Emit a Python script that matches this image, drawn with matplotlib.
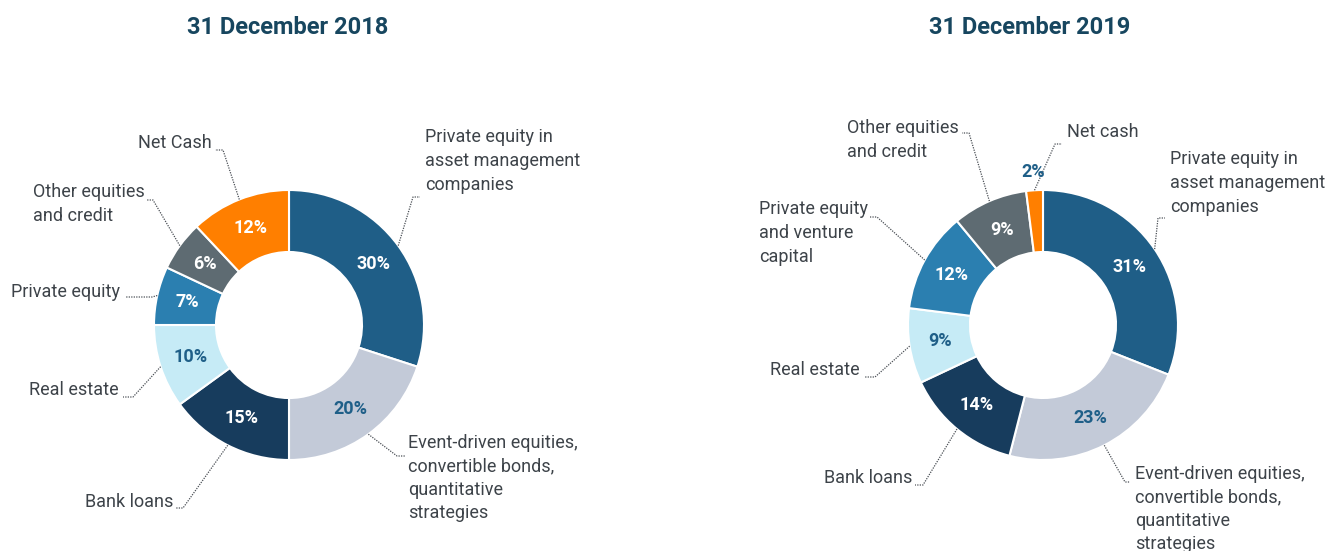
import numpy
import matplotlib
matplotlib.use("Agg")
import matplotlib.pyplot as plt

plt.rcParams['font.family'] = ['Roboto', 'DejaVu Sans']

# data for both dates, clockwise from 12 o'clock
labels_2018 = ["Private equity in\nasset management\ncompanies",
               "Event-driven equities,\nconvertible bonds,\nquantitative\nstrategies",
               "Bank loans", "Real estate", "Private equity",
               "Other equities\nand credit", "Net Cash"]
values_2018 = [30, 20, 15, 10, 7, 6, 12]

labels_2019 = ["Private equity in\nasset management\ncompanies",
               "Event-driven equities,\nconvertible bonds,\nquantitative\nstrategies",
               "Bank loans", "Real estate", "Private equity\nand venture\ncapital",
               "Other equities\nand credit", "Net cash"]
values_2019 = [31, 23, 14, 9, 12, 9, 2]

titles = ["31 December 2018", "31 December 2019"]

colors = ["#1f5e87", "#c3cad8", "#173c5d", "#c6ebf6", "#2b7fb0", "#5e6b72", "#ff7f00"]
pct_colors = ["white", "#1f5f88", "white", "#1f5f88", "white", "white", "white"]

W, H = 1329, 551
fig = plt.figure(figsize=(W / 100, H / 100), dpi=100)
ax = fig.add_axes([0, 0, 1, 1])

R_OUT = 135
R_IN = 73
R_MID = (R_OUT + R_IN) / 2

text_color = "#3d4349"
line_color = "#4a4f55"


def Y(py):
    # pixel row (from top) -> data y
    return H - py


# label layout: (x, y, ha, elbow, end of horizontal tick) in pixels
layout_2018 = [
    (425, 161, 'left', (413, 197), (420, 197)),
    (408, 478, 'left', (397, 456), (405, 456)),
    (173, 502, 'right', (183, 508), (176, 508)),
    (119, 390, 'right', (133, 397), (123, 397)),
    (120, 292, 'right', (152, 297), (125, 297)),
    (33, 204, 'left', (153, 200), (147, 200)),
    (212, 143, 'right', (223, 150), (215, 150)),
]
layout_2019 = [
    (1170, 183, 'left', (1158, 218), (1165, 218)),
    (1135, 509, 'left', (1125, 482), (1130, 482)),
    (912, 478, 'right', (923, 485), (915, 485)),
    (860, 370, 'right', (875, 377), (865, 377)),
    (759, 233, 'left', (877, 217), (870, 217)),
    (847, 140, 'left', (969, 133), (962, 133)),
    (1067, 132, 'left', (1055, 144), (1062, 144)),
]

charts = [
    (values_2018, labels_2018, layout_2018, (289, 325), (288, 28)),
    (values_2019, labels_2019, layout_2019, (1043, 325), (1030, 28)),
]

for k, (values, labels, layout, center, title_pos) in enumerate(charts):
    cx, cy = center[0], Y(center[1])
    wedges, _ = ax.pie(values, colors=colors, center=(cx, cy), radius=R_OUT,
                       startangle=90, counterclock=False,
                       wedgeprops=dict(width=R_OUT - R_IN, edgecolor='white', linewidth=1.5))
    for i, w in enumerate(wedges):
        ang = numpy.deg2rad((w.theta1 + w.theta2) / 2)
        # percentage labels, small slices outside the ring
        if values[i] < 4:
            r_txt, col = R_OUT + 18, "#1f5f88"
        else:
            r_txt, col = R_MID, pct_colors[i]
        ax.text(cx + r_txt * numpy.cos(ang), cy + r_txt * numpy.sin(ang), f"{values[i]}%",
                ha='center', va='center', fontsize=13, fontweight='bold', color=col)
        # category labels with dotted leader
        tx, ty, ha, elbow, tick = layout[i]
        ax.text(tx, Y(ty), labels[i], ha=ha, va='center', fontsize=13, color=text_color,
                linespacing=1.4, multialignment='left')
        sx = cx + R_OUT * numpy.cos(ang)
        sy = cy + R_OUT * numpy.sin(ang)
        ax.plot([sx, elbow[0], tick[0]], [sy, Y(elbow[1]), Y(tick[1])],
                color=line_color, linewidth=0.9, linestyle=(0, (1, 1)))
    ax.text(title_pos[0], Y(title_pos[1]), titles[k], ha='center', va='center',
            fontsize=17, fontweight='bold', color="#17465f")

ax.set_xlim(0, W)
ax.set_ylim(0, H)
ax.set_aspect('auto')
ax.axis('off')
fig.savefig('out.png', dpi=100)
